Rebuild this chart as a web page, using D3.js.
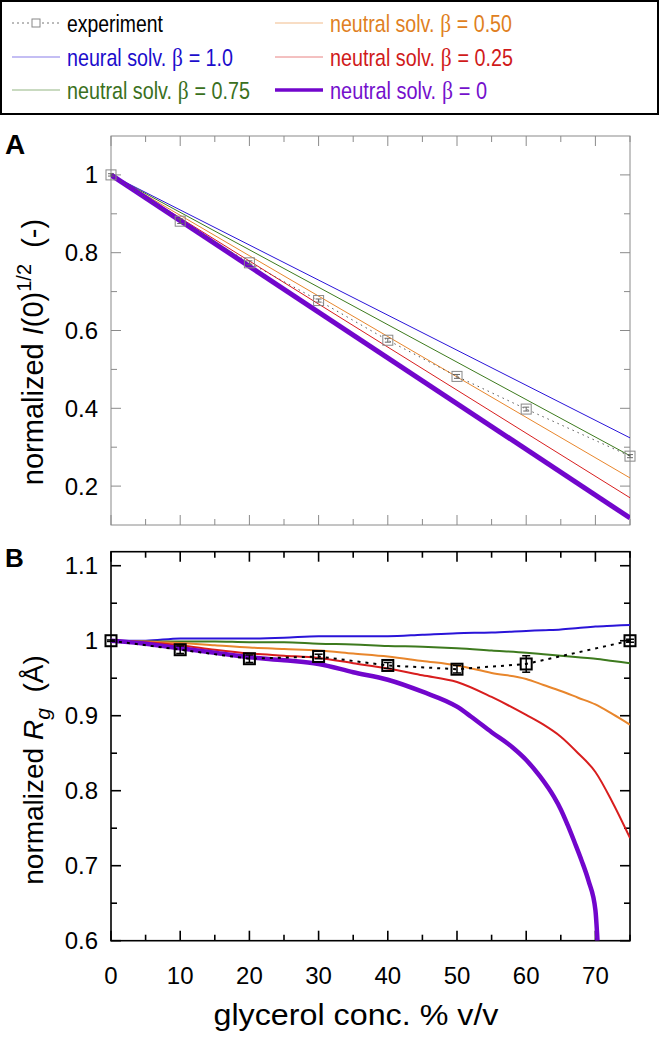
<!DOCTYPE html>
<html><head><meta charset="utf-8">
<script src="https://cdn.jsdelivr.net/npm/d3@7"></script>
<style>body{margin:0;background:#fff}svg{display:block;font-family:"Liberation Sans",Arial,sans-serif}</style>
</head><body>
<svg id="c" width="660" height="1038"></svg>
<script>
// ---------- data ----------
const seriesPrefix = ["neural solv.","neutral solv.","neutral solv.","neutral solv.","neutral solv."];
const seriesBeta = ["1.0","0.75","0.50","0.25","0"];
const seriesColors = ["#2a14d8","#3d7a1e","#e8862c","#d81e1e","#7206cc"];
const legendTextColors = ["#1c0ccc","#3a7020","#e07f22","#d01a1a","#7410cc"];

// Panel A: normalized I(0)^1/2 (linear model lines)
const xA = [0, 75];
const aBeta100 = [1.0, 0.324];
const aBeta075 = [1.0, 0.278];
const aBeta050 = [1.0, 0.221];
const aBeta025 = [1.0, 0.170];
const aBeta000 = [1.0, 0.118];

// experiment
const expX = [0, 10, 20, 30, 40, 50, 60, 75];
const expA = [1.0, 0.881, 0.774, 0.677, 0.575, 0.482, 0.398, 0.277];
const expAerr = [0.003, 0.006, 0.005, 0.004, 0.005, 0.005, 0.005, 0.004];
const expB = [1.0, 0.988, 0.976, 0.979, 0.967, 0.962, 0.969, 1.0];
const expBerr = [0.001, 0.005, 0.005, 0.003, 0.004, 0.005, 0.011, 0.002];

// Panel B: normalized Rg
const xB = [0,5,10,15,20,25,30,35,40,45,50,55,60,62.5,65,67.5,70,72.5,75];
const bBeta100 = [1.000,1.000,1.003,1.003,1.003,1.004,1.006,1.006,1.006,1.008,1.010,1.011,1.013,1.014,1.015,1.017,1.019,1.020,1.021];
const bBeta075 = [1.000,0.999,0.999,0.999,0.998,0.998,0.996,0.995,0.993,0.992,0.990,0.987,0.984,0.982,0.980,0.978,0.976,0.973,0.970];
const bBeta050 = [1.000,0.999,0.997,0.994,0.991,0.989,0.987,0.983,0.979,0.973,0.967,0.957,0.949,0.941,0.933,0.924,0.915,0.902,0.888];
const bBeta025 = [1.000,0.998,0.994,0.988,0.983,0.980,0.977,0.970,0.963,0.954,0.945,0.925,0.901,0.888,0.872,0.850,0.825,0.784,0.737];
const xB0 = [0,5,10,15,20,25,30,35,40,45,50,52,55,58,60,62,64,65,66,67,68,69,70,70.3];
const bBeta000 = [1.000,0.996,0.990,0.984,0.978,0.974,0.969,0.958,0.948,0.932,0.912,0.899,0.878,0.858,0.841,0.819,0.792,0.775,0.754,0.731,0.707,0.680,0.641,0.600];

const xTicks = [0,10,20,30,40,50,60,70];
const aYTicks = [0.2,0.4,0.6,0.8,1];
const bYTicks = [0.6,0.7,0.8,0.9,1,1.1];

// ---------- layout ----------
const svg = d3.select("#c");
const L = 111, R = 630;
const x = d3.scaleLinear().domain([0,75]).range([L,R]);
const yA = d3.scaleLinear().domain([0.1,1.1]).range([525,136]);
const yB = d3.scaleLinear().domain([0.6,1.1187]).range([940.7,551.7]);

// ---------- legend ----------
const lg = svg.append("g");
lg.append("rect").attr("x",1).attr("y",1).attr("width",657).attr("height",113)
  .attr("fill","none").attr("stroke","#000").attr("stroke-width",2);
const legendItems = [
  {col:0,row:0, exp:true, len:96},
  {i:0, col:0,row:1, w:1, len:166},
  {i:1, col:0,row:2, w:1, len:183},
  {i:2, col:1,row:0, w:1, len:182},
  {i:3, col:1,row:1, w:1, len:183},
  {i:4, col:1,row:2, w:3.5, len:157}
];
const rowY = [23,57,90], colX = [12,275];
legendItems.forEach(d=>{
  const x0 = colX[d.col], y0 = rowY[d.row];
  if (d.exp) {
    lg.append("line").attr("x1",x0).attr("x2",x0+48).attr("y1",y0).attr("y2",y0)
      .attr("stroke","#777").attr("stroke-width",1).attr("stroke-dasharray","2,3");
    lg.append("rect").attr("x",x0+20).attr("y",y0-4).attr("width",8).attr("height",8)
      .attr("fill","#fff").attr("stroke","#888").attr("stroke-width",1);
    const tg = lg.append("g");
    const t = tg.append("text").attr("x",0).attr("y",0).attr("font-size",24).attr("fill","#000").text("experiment");
    const w = t.node().getComputedTextLength();
    tg.attr("transform",`translate(${x0+55},${y0+9}) scale(${d.len/w},1)`);
  } else {
    lg.append("line").attr("x1",x0).attr("x2",x0+48).attr("y1",y0).attr("y2",y0)
      .attr("stroke",seriesColors[d.i]).attr("stroke-width",d.w).attr("opacity",d.w>1?1:0.55);
    const tg = lg.append("g").attr("fill",legendTextColors[d.i]);
    let cx = 0;
    const t1 = tg.append("text").attr("x",cx).attr("y",0).attr("font-size",24).text(seriesPrefix[d.i]);
    cx += t1.node().getComputedTextLength() + 7;
    const t2 = tg.append("text").attr("x",cx).attr("y",0).attr("font-size",26)
      .attr("font-family","'Liberation Serif','Times New Roman',serif").text("β");
    cx += t2.node().getComputedTextLength() + 7;
    const t3 = tg.append("text").attr("x",cx).attr("y",0).attr("font-size",24).text("= " + seriesBeta[d.i]);
    cx += t3.node().getComputedTextLength();
    tg.attr("transform",`translate(${x0+55},${y0+9}) scale(${d.len/cx},1)`);
  }
});

// ---------- helpers ----------
function frame(g, y, ticksMajor, ticksMinor, color, sw, top, bottom) {
  g.append("rect").attr("x",L).attr("y",top).attr("width",R-L).attr("height",bottom-top)
    .attr("fill","none").attr("stroke",color).attr("stroke-width",sw);
  const xMin = [5,15,25,35,45,55,65,75];
  xTicks.forEach(v=>{
    g.append("line").attr("x1",x(v)).attr("x2",x(v)).attr("y1",top).attr("y2",top+10).attr("stroke",color).attr("stroke-width",sw);
    g.append("line").attr("x1",x(v)).attr("x2",x(v)).attr("y1",bottom).attr("y2",bottom-10).attr("stroke",color).attr("stroke-width",sw);
  });
  xMin.forEach(v=>{
    g.append("line").attr("x1",x(v)).attr("x2",x(v)).attr("y1",top).attr("y2",top+6).attr("stroke",color).attr("stroke-width",sw);
    g.append("line").attr("x1",x(v)).attr("x2",x(v)).attr("y1",bottom).attr("y2",bottom-6).attr("stroke",color).attr("stroke-width",sw);
  });
  ticksMajor.forEach(v=>{
    g.append("line").attr("x1",L).attr("x2",L+10).attr("y1",y(v)).attr("y2",y(v)).attr("stroke",color).attr("stroke-width",sw);
    g.append("line").attr("x1",R).attr("x2",R-10).attr("y1",y(v)).attr("y2",y(v)).attr("stroke",color).attr("stroke-width",sw);
    g.append("text").attr("x",98).attr("y",y(v)+8.5).attr("text-anchor","end").attr("font-size",24).text(d3.format("~g")(v));
  });
  ticksMinor.forEach(v=>{
    g.append("line").attr("x1",L).attr("x2",L+6).attr("y1",y(v)).attr("y2",y(v)).attr("stroke",color).attr("stroke-width",sw);
    g.append("line").attr("x1",R).attr("x2",R-6).attr("y1",y(v)).attr("y2",y(v)).attr("stroke",color).attr("stroke-width",sw);
  });
}
function clip(id, top, bottom) {
  svg.append("clipPath").attr("id",id).append("rect").attr("x",L).attr("y",top).attr("width",R-L).attr("height",bottom-top);
}

// ---------- Panel A ----------
const gA = svg.append("g");
frame(gA, yA, aYTicks, [0.3,0.5,0.7,0.9], "#8a8a8a", 1, 136, 525);
clip("clipA", 130, 525);
const lineA = d3.line().x(d=>x(d[0])).y(d=>yA(d[1]));
const aSeries = [aBeta100,aBeta075,aBeta050,aBeta025,aBeta000];
const gAl = gA.append("g").attr("clip-path","url(#clipA)");
aSeries.forEach((s,i)=>{
  gAl.append("path").datum(xA.map((v,j)=>[v,s[j]])).attr("d",lineA)
    .attr("fill","none").attr("stroke",seriesColors[i]).attr("stroke-width",i===4?5:1);
});
gA.append("path").datum(expX.map((v,j)=>[v,expA[j]])).attr("d",lineA)
  .attr("fill","none").attr("stroke","#555").attr("stroke-width",1).attr("stroke-dasharray","1.5,4");
expX.forEach((v,j)=>{
  const cx = x(v), cy = yA(expA[j]);
  gA.append("line").attr("x1",cx).attr("x2",cx).attr("y1",yA(expA[j]+expAerr[j])).attr("y2",yA(expA[j]-expAerr[j])).attr("stroke","#666").attr("stroke-width",1);
  [expA[j]+expAerr[j], expA[j]-expAerr[j]].forEach(e=>gA.append("line").attr("x1",cx-3).attr("x2",cx+3).attr("y1",yA(e)).attr("y2",yA(e)).attr("stroke","#666").attr("stroke-width",1));
  gA.append("rect").attr("x",cx-5).attr("y",cy-5).attr("width",10).attr("height",10)
    .attr("fill","none").attr("stroke","#888").attr("stroke-width",1);
});
svg.append("text").attr("x",5).attr("y",154).attr("font-size",28).attr("font-weight","bold").text("A");
const tA = svg.append("text").attr("transform","translate(43,352) rotate(-90)").attr("text-anchor","middle").attr("font-size",29);
tA.append("tspan").text("normalized ");
tA.append("tspan").attr("font-style","italic").text("I");
tA.append("tspan").text("(0)");
tA.append("tspan").attr("font-size",20).attr("dy",-12).text("1/2");
tA.append("tspan").attr("dy",12).text("\u00a0\u00a0(-)");

// ---------- Panel B ----------
const gB = svg.append("g");
frame(gB, yB, bYTicks, [0.65,0.75,0.85,0.95,1.05], "#000", 1.6, 551.7, 940.7);
clip("clipB", 551.7, 940.7);
const lineB = d3.line().x(d=>x(d[0])).y(d=>yB(d[1])).curve(d3.curveMonotoneX);
const lineBexp = d3.line().x(d=>x(d[0])).y(d=>yB(d[1]));
const bSeries = [[xB,bBeta100],[xB,bBeta075],[xB,bBeta050],[xB,bBeta025],[xB0,bBeta000]];
const gBl = gB.append("g").attr("clip-path","url(#clipB)");
bSeries.forEach((s,i)=>{
  gBl.append("path").datum(s[0].map((v,j)=>[v,s[1][j]])).attr("d",lineB)
    .attr("fill","none").attr("stroke",seriesColors[i]).attr("stroke-width",i===4?4.5:2).attr("stroke-linejoin","round");
});
gB.append("path").datum(expX.map((v,j)=>[v,expB[j]])).attr("d",lineBexp)
  .attr("fill","none").attr("stroke","#000").attr("stroke-width",2).attr("stroke-dasharray","3,5");
expX.forEach((v,j)=>{
  const cx = x(v), cy = yB(expB[j]);
  gB.append("line").attr("x1",cx).attr("x2",cx).attr("y1",yB(expB[j]+expBerr[j])).attr("y2",yB(expB[j]-expBerr[j])).attr("stroke","#000").attr("stroke-width",1.5);
  [expB[j]+expBerr[j], expB[j]-expBerr[j]].forEach(e=>gB.append("line").attr("x1",cx-4).attr("x2",cx+4).attr("y1",yB(e)).attr("y2",yB(e)).attr("stroke","#000").attr("stroke-width",1.5));
  gB.append("rect").attr("x",cx-5.5).attr("y",cy-5.5).attr("width",11).attr("height",11)
    .attr("fill","none").attr("stroke","#000").attr("stroke-width",2);
});
svg.append("text").attr("x",5).attr("y",567).attr("font-size",26).attr("font-weight","bold").text("B");
const tB = svg.append("text").attr("transform","translate(43,770) rotate(-90)").attr("text-anchor","middle").attr("font-size",28);
tB.append("tspan").text("normalized ");
tB.append("tspan").attr("font-style","italic").text("R");
tB.append("tspan").attr("font-style","italic").attr("font-size",21).attr("dy",7).text("g");
tB.append("tspan").attr("dy",-7).text("\u00a0\u00a0(Å)");

// x tick labels and title
xTicks.forEach(v=>{
  svg.append("text").attr("x",x(v)).attr("y",984).attr("text-anchor","middle").attr("font-size",24).text(v);
});
svg.append("text").attr("x",356).attr("y",1025).attr("text-anchor","middle").attr("font-size",30)
  .attr("textLength",285).attr("lengthAdjust","spacingAndGlyphs").text("glycerol conc. % v/v");
</script>
</body></html>
